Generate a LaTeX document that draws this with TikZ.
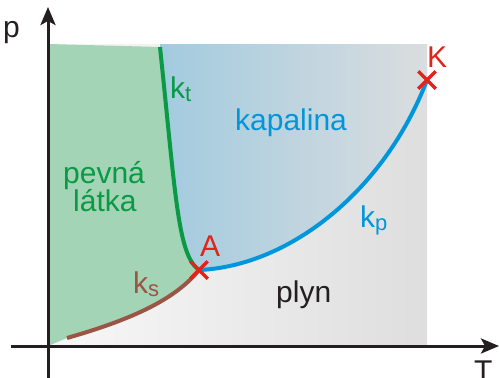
\documentclass[tikz,border=0pt]{standalone}
\usepackage{fontspec}
\setmainfont{Liberation Sans}
\usetikzlibrary{arrows.meta,shapes.misc}
\definecolor{axiscol}{HTML}{231F20}
\definecolor{gasL}{HTML}{F8F8F8}
\definecolor{gasR}{HTML}{DEDEDE}
\definecolor{liqL}{HTML}{A2CBDF}
\definecolor{liqR}{HTML}{DBDDDF}
\definecolor{solidcol}{HTML}{A2D4B5}
\definecolor{greencol}{HTML}{0A9A46}
\definecolor{bluecol}{HTML}{0096DB}
\definecolor{browncol}{HTML}{9A5545}
\definecolor{redcol}{HTML}{E2231A}
\tikzset{
  axisline/.style={draw=axiscol, line width=3pt, -{Stealth[length=18pt,width=15pt,inset=4pt]}},
  curve/.style={line width=4pt},
  xmark/.style={draw=redcol, cross out, line width=3.5pt, minimum size=14pt, inner sep=0pt},
  lbl/.style={inner sep=0pt, anchor=base west, font=\fontsize{30}{30}\selectfont},
}
\newcommand{\subsc}[1]{\raisebox{-0.1em}{\fontsize{22}{22}\selectfont #1}}
\begin{document}
\begin{tikzpicture}[x=1pt,y=-1pt]
\useasboundingbox (0,0) rectangle (499,378);
% key points
\coordinate (TL) at (48,44);
\coordinate (TR) at (427,44);
\coordinate (BL) at (48,346);
\coordinate (LT) at (160,44);
\coordinate (Kt0) at (160,47);
\coordinate (A) at (199,270);
\coordinate (K) at (427,80);
\coordinate (Ks0) at (67,338);
% regions
\shade[left color=gasL, right color=gasR] (BL) rectangle (TR);
\shade[left color=liqL, right color=liqR]
  (Kt0) .. controls (176,200) and (178,255) .. (A)
  .. controls (290,266) and (385,190) .. (K) -- (TR) -- (LT) -- cycle;
\fill[solidcol] (TL) -- (Kt0) .. controls (176,200) and (178,255) .. (A)
  .. controls (175,300) and (130,320) .. (Ks0) -- (BL) -- cycle;
% curves
\draw[curve, greencol] (Kt0) .. controls (176,200) and (178,255) .. (A);
\draw[curve, browncol] (Ks0) .. controls (130,320) and (175,300) .. (A);
\draw[curve, bluecol] (A) .. controls (290,266) and (385,190) .. (K);
% marks
\node[xmark] (xA) at (A) {};
\node[xmark] (xK) at (K) {};
% axes
\coordinate (yb) at (48,378);
\coordinate (yt) at (48,7);
\coordinate (xl) at (11,346);
\coordinate (xr) at (499,346);
\draw[axisline] (yb) -- (yt);
\draw[axisline] (xl) -- (xr);
% labels
\node[lbl, text=axiscol] (lp) at (3,37) {p};
\node[lbl, text=axiscol] (lT) at (474,381) {T};
\node[lbl, text=redcol] (lK) at (427,67) {K};
\node[lbl, text=redcol] (lA) at (200,256) {A};
\node[lbl, text=greencol] (lkt) at (170,98) {k\subsc{t}};
\node[lbl, text=bluecol] (lkap) at (235,130) {kapalina};
\node[lbl, text=greencol] (lpev) at (63,183) {pevná};
\node[lbl, text=greencol] (llat) at (73,211) {látka};
\node[lbl, text=bluecol] (lkp) at (360,227) {k\subsc{p}};
\node[lbl, text=browncol] (lks) at (133,293) {k\subsc{s}};
\node[lbl, text=axiscol] (lply) at (276,302) {plyn};
\end{tikzpicture}
\end{document}
